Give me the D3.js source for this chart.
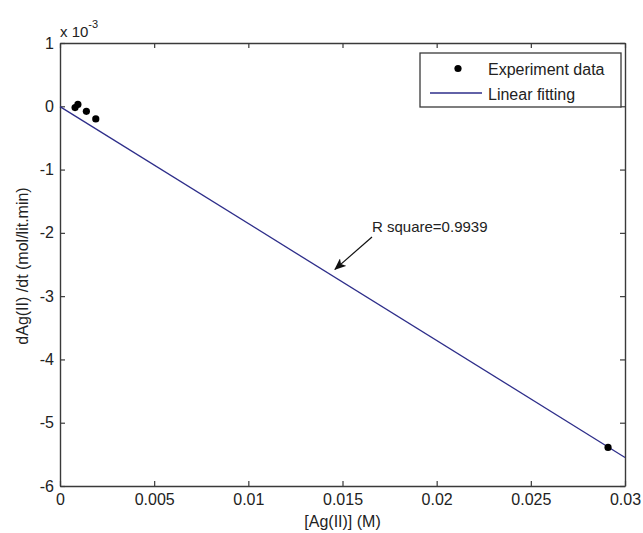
<!DOCTYPE html>
<html>
<head>
<meta charset="utf-8">
<script src="https://cdn.jsdelivr.net/npm/d3@7"></script>
<style>
  html, body { margin: 0; padding: 0; background: #fff; }
  svg { display: block; font-family: "Liberation Sans", Arial, sans-serif; }
</style>
</head>
<body>
<svg id="chart" width="643" height="533"></svg>
<script>
// Measured rates (y values are in units of 1e-3 mol/lit.min)
const concentration = [0.0008, 0.00095, 0.0014, 0.0019, 0.0291];
const rate = [-0.02, 0.03, -0.08, -0.2, -5.39];

// Linear fit: rate = fitIntercept + fitSlope * concentration (units of 1e-3)
const fitIntercept = -0.005;
const fitSlope = -184.8;
const fitRange = [0, 0.03];

const xTicks = [0, 0.005, 0.01, 0.015, 0.02, 0.025, 0.03];
const xTickLabels = ["0", "0.005", "0.01", "0.015", "0.02", "0.025", "0.03"];
const yTicks = [1, 0, -1, -2, -3, -4, -5, -6];
const yTickLabels = ["1", "0", "-1", "-2", "-3", "-4", "-5", "-6"];

const legendLabels = ["Experiment data", "Linear fitting"];
const annotationText = "R square=0.9939";
const annotationAt = 0.0146; // concentration where the arrow points at the fit line

const svg = d3.select("#chart");
const plotL = 60, plotR = 625, plotT = 43, plotB = 486;
const axisColor = "#3a3a3a";
const textColor = "#222";
const lineColor = "#2e2e8a";

const x = d3.scaleLinear().domain([0, 0.03]).range([plotL, plotR]);
const y = d3.scaleLinear().domain([-6, 1]).range([plotB, plotT]);

// Box axes with inward ticks on all four sides
const tickLen = 5;
const fmtX = (d, i) => xTickLabels[i];
const fmtY = (d, i) => yTickLabels[i];

const gB = svg.append("g").attr("transform", `translate(0,${plotB})`)
  .call(d3.axisBottom(x).tickValues(xTicks).tickFormat(fmtX).tickSizeInner(-tickLen).tickSizeOuter(0).tickPadding(10));
const gT = svg.append("g").attr("transform", `translate(0,${plotT})`)
  .call(d3.axisTop(x).tickValues(xTicks).tickFormat("").tickSizeInner(-tickLen).tickSizeOuter(0));
const gL = svg.append("g").attr("transform", `translate(${plotL},0)`)
  .call(d3.axisLeft(y).tickValues(yTicks).tickFormat(fmtY).tickSizeInner(-tickLen).tickSizeOuter(0).tickPadding(10));
const gR = svg.append("g").attr("transform", `translate(${plotR},0)`)
  .call(d3.axisRight(y).tickValues(yTicks).tickFormat("").tickSizeInner(-tickLen).tickSizeOuter(0));

[gB, gT, gL, gR].forEach(g => {
  g.select(".domain").attr("stroke", axisColor).attr("stroke-width", 1.4);
  g.selectAll(".tick line").attr("stroke", axisColor).attr("stroke-width", 1.2);
  g.selectAll(".tick text").attr("fill", textColor).attr("font-size", 16)
    .attr("font-family", "Liberation Sans, Arial, sans-serif");
});
gB.selectAll(".tick text").attr("dy", "0.55em");
gL.selectAll(".tick text").attr("dx", "4px");

// Exponent label
const expo = svg.append("text").attr("x", 60).attr("y", 37)
  .attr("fill", textColor).attr("font-size", 15);
expo.append("tspan").text("x 10");
expo.append("tspan").attr("dy", -9).attr("font-size", 11).text("-3");

// Fit line
const fitData = fitRange.map(c => ({ c, r: fitIntercept + fitSlope * c }));
svg.append("path")
  .datum(fitData)
  .attr("fill", "none")
  .attr("stroke", lineColor)
  .attr("stroke-width", 1.3)
  .attr("d", d3.line().x(d => x(d.c)).y(d => y(d.r)));

// Experimental points
svg.append("g").selectAll("circle")
  .data(concentration.map((c, i) => ({ c, r: rate[i] })))
  .join("circle")
  .attr("cx", d => x(d.c))
  .attr("cy", d => y(d.r))
  .attr("r", 3.6)
  .attr("fill", "#000");

// Annotation with arrow
const defs = svg.append("defs");
defs.append("marker")
  .attr("id", "arrowhead")
  .attr("viewBox", "0 0 12 10")
  .attr("refX", 11).attr("refY", 5)
  .attr("markerWidth", 12).attr("markerHeight", 10)
  .attr("markerUnits", "userSpaceOnUse")
  .attr("orient", "auto")
  .append("path")
  .attr("d", "M0,0 L12,5 L0,10 L3,5 Z")
  .attr("fill", "#111");

const tipX = x(annotationAt);
const tipY = y(fitIntercept + fitSlope * annotationAt) - 8;
svg.append("line")
  .attr("x1", 372).attr("y1", 237)
  .attr("x2", tipX).attr("y2", tipY)
  .attr("stroke", "#111").attr("stroke-width", 1.2)
  .attr("marker-end", "url(#arrowhead)");
svg.append("text")
  .attr("x", 372).attr("y", 232)
  .attr("fill", textColor).attr("font-size", 15)
  .text(annotationText);

// Legend
const lg = svg.append("g");
lg.append("rect")
  .attr("x", 420).attr("y", 53).attr("width", 201).attr("height", 54)
  .attr("fill", "#fff").attr("stroke", axisColor).attr("stroke-width", 1.3);
lg.append("circle").attr("cx", 458).attr("cy", 68.5).attr("r", 3.6).attr("fill", "#000");
lg.append("line").attr("x1", 430).attr("x2", 482).attr("y1", 93).attr("y2", 93)
  .attr("stroke", lineColor).attr("stroke-width", 1.3);
lg.selectAll("text.lab").data(legendLabels).join("text")
  .attr("class", "lab")
  .attr("x", 488)
  .attr("y", (d, i) => 75 + i * 24.5)
  .attr("fill", textColor).attr("font-size", 16)
  .text(d => d);

// Axis titles
svg.append("text")
  .attr("x", (plotL + plotR) / 2).attr("y", 527)
  .attr("text-anchor", "middle")
  .attr("fill", textColor).attr("font-size", 16)
  .text("[Ag(II)] (M)");
svg.append("text")
  .attr("transform", "translate(28,266) rotate(-90)")
  .attr("text-anchor", "middle")
  .attr("fill", textColor).attr("font-size", 16)
  .text("dAg(II) /dt (mol/lit.min)");
</script>
</body>
</html>
